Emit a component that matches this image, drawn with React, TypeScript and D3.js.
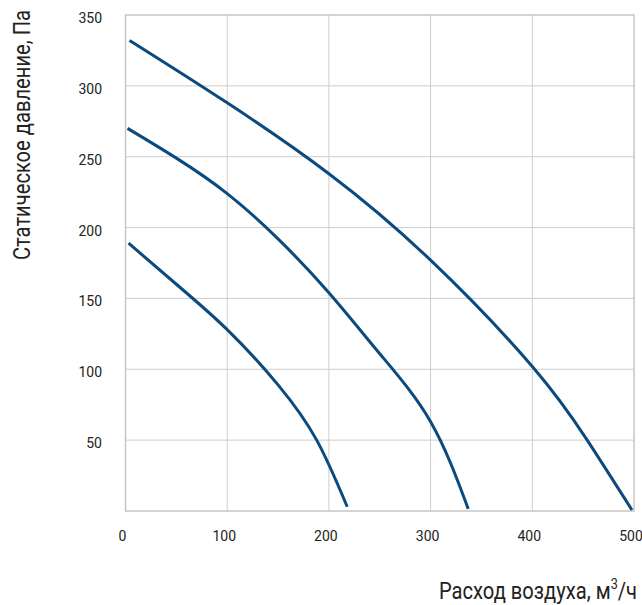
import React from "react";
import * as d3 from "d3";

const xTicks = [0, 100, 200, 300, 400, 500];
const yTicks = [50, 100, 150, 200, 250, 300, 350];

const curveHighQ = [4, 100, 200, 300, 400, 454, 498];
const curveHighP = [332, 288, 238, 177, 102, 50, 0.7];

const curveMidQ = [2, 50, 100, 150, 200, 250, 300, 337];
const curveMidP = [270, 249, 224, 192, 154, 111, 63, 1.5];

const curveLowQ = [3, 50, 100, 150, 188, 218];
const curveLowP = [189, 160, 128, 89, 50, 3];

const xTitle = "Расход воздуха, м";
const yTitle = "Статическое давление, Па";

const FONT = "Roboto, 'Noto Sans', sans-serif";

export default function App() {
  const W = 642, H = 605;
  const x = d3.scaleLinear().domain([0, 500]).range([125.5, 634]);
  const y = d3.scaleLinear().domain([0, 350]).range([511, 15]);
  const line = d3
    .line<[number, number]>()
    .x((d) => x(d[0]))
    .y((d) => y(d[1]))
    .curve(d3.curveNatural);
  const series = [
    [curveHighQ, curveHighP],
    [curveMidQ, curveMidP],
    [curveLowQ, curveLowP],
  ].map(([q, p]) => q.map((v, i) => [v, p[i]] as [number, number]));

  return (
    <svg width={W} height={H} style={{ position: "absolute", left: 0, top: 0 }}>
      <rect width={W} height={H} fill="#fff" />
      {xTicks.slice(1, -1).map((t) => (
        <line key={"gx" + t} x1={x(t)} x2={x(t)} y1={y(350)} y2={y(0)} stroke="#cdcdcd" strokeWidth={1} />
      ))}
      {yTicks.slice(0, -1).map((t) => (
        <line key={"gy" + t} x1={x(0)} x2={x(500)} y1={y(t)} y2={y(t)} stroke="#cdcdcd" strokeWidth={1} />
      ))}
      <rect x={x(0)} y={y(350)} width={x(500) - x(0)} height={y(0) - y(350)} fill="none" stroke="#c6c6c6" strokeWidth={1.5} />
      {series.map((s, i) => (
        <path key={i} d={line(s) || ""} fill="none" stroke="#0b4a7e" strokeWidth={3} />
      ))}
      {yTicks.map((t) => (
        <text key={"ty" + t} x={102} y={y(t) + 8} textAnchor="end" fontFamily={FONT} fontSize={14} fill="#222">
          {t}
        </text>
      ))}
      {xTicks.map((t) => (
        <text key={"tx" + t} x={x(t) - 3} y={541} textAnchor="middle" fontFamily={FONT} fontSize={14} fill="#222">
          {t}
        </text>
      ))}
      <g transform="translate(637,599) scale(0.84,1)">
        <text x={0} y={0} textAnchor="end" fontFamily={FONT} fontSize={24} fill="#222">
          {xTitle}
          <tspan fontSize={15} dy={-10}>3</tspan>
          <tspan dy={10}>/ч</tspan>
        </text>
      </g>
      <g transform="translate(30,135) rotate(-90) scale(0.84,1)">
        <text x={0} y={0} textAnchor="middle" fontFamily={FONT} fontSize={24} fill="#222">
          {yTitle}
        </text>
      </g>
    </svg>
  );
}
